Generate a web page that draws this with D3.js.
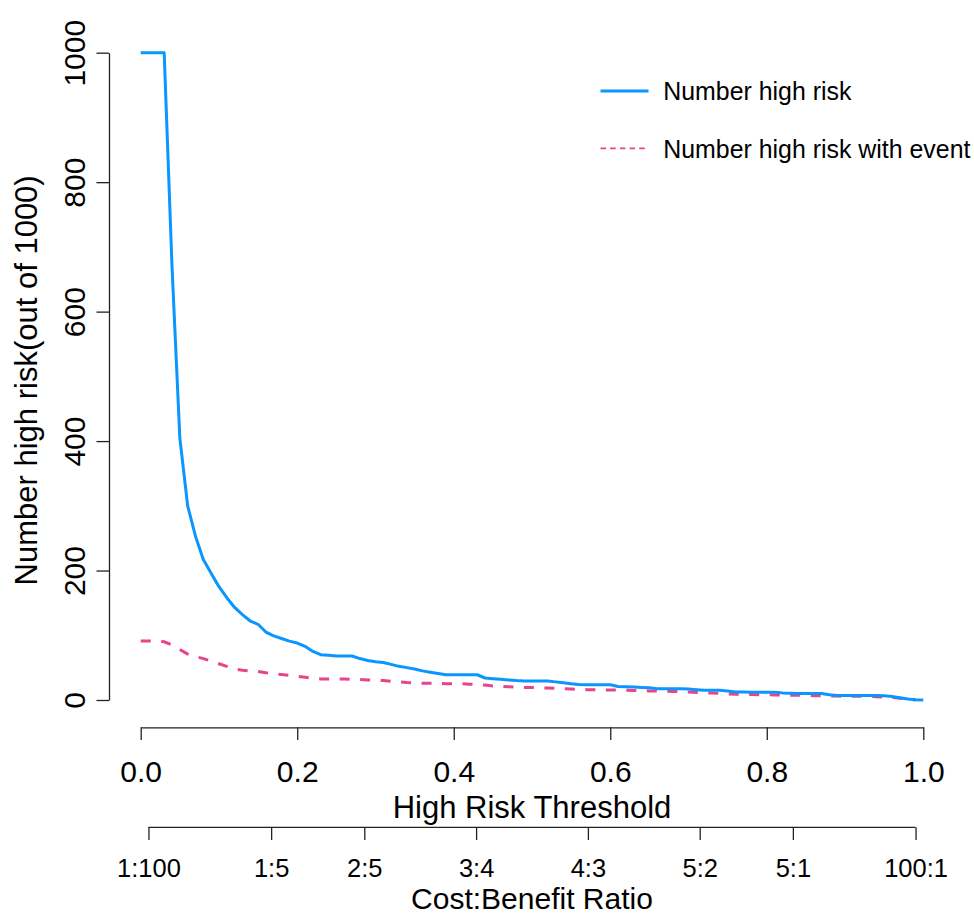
<!DOCTYPE html>
<html>
<head>
<meta charset="utf-8">
<script src="https://cdn.jsdelivr.net/npm/d3@7"></script>
<style>
  html, body { margin: 0; padding: 0; background: #fff; }
  svg { display: block; font-family: "Liberation Sans", Arial, Helvetica, sans-serif; }
</style>
</head>
<body>
<svg id="chart" width="974" height="915"></svg>
<script>
// ---------------- data ----------------
const thresholds = [
  0.00,0.01,0.02,0.03,0.04,0.05,0.06,0.07,0.08,0.09,
  0.10,0.11,0.12,0.13,0.14,0.15,0.16,0.17,0.18,0.19,
  0.20,0.21,0.22,0.23,0.24,0.25,0.26,0.27,0.28,0.29,
  0.30,0.31,0.32,0.33,0.34,0.35,0.36,0.37,0.38,0.39,
  0.40,0.41,0.42,0.43,0.44,0.45,0.46,0.47,0.48,0.49,
  0.50,0.51,0.52,0.53,0.54,0.55,0.56,0.57,0.58,0.59,
  0.60,0.61,0.62,0.63,0.64,0.65,0.66,0.67,0.68,0.69,
  0.70,0.71,0.72,0.73,0.74,0.75,0.76,0.77,0.78,0.79,
  0.80,0.81,0.82,0.83,0.84,0.85,0.86,0.87,0.88,0.89,
  0.90,0.91,0.92,0.93,0.94,0.95,0.96,0.97,0.98,0.99,
  1.00
];
const numberHighRisk = [
  1000,1000,1000,1000,670,405,300,253,217,196,
  175,158,143,132,122,117,105,99,95,91,
  88,83,75,70,69,68,68,68,64,61,
  59,58,55,52,50,48,45,43,41,39,
  39,39,39,39,34,33,32,31,30,29.5,
  29.5,29.5,29.5,28,26.5,25,24,23.7,23.7,23.7,
  23.5,21,20.5,20,19.5,19,17.5,17.5,17.5,17.5,
  17,16,15,15,15,14,12.5,12.2,12,12,
  12,12,11,10.5,10,10,10,10,8,7,
  7,7,7,7,7,6.5,5.5,3.5,1.5,0.5,
  0
];
const numberHighRiskEvent = [
  91,91,91,90,85,78,71,67,64,60,
  56,52,48,46,45,44,42,40.5,39.5,38,
  36.5,35,33.5,32.5,32.5,32.5,32.5,32,31.5,31,
  30.5,30,29,28,27,26.5,26,26,25.5,25.2,
  25,25,24.5,24.2,23,21.5,21,20.5,20,19.5,
  19.5,19,18.5,18,17.5,17,16.2,16,15.8,15.6,
  15.5,15.3,15,14.7,14.3,14,13.7,13.5,13.3,13,
  12.5,11.5,11,10.8,10.5,9.5,8.8,8.8,8.5,8.2,
  8,7.8,7.5,7.2,7.2,7,6.7,6.5,6.2,6,
  5.7,5.7,5.7,5.5,5,4.6,4,2.5,1.2,0,
  null
];
const xTicks = [0.0, 0.2, 0.4, 0.6, 0.8, 1.0];
const yTicks = [0, 200, 400, 600, 800, 1000];
const ratioLabels = ["1:100", "1:5", "2:5", "3:4", "4:3", "5:2", "5:1", "100:1"];
const seriesNames = ["Number high risk", "Number high risk with event"];
const seriesColors = ["#0A96FF", "#E8438C"];

// ---------------- layout ----------------
const svg = d3.select("#chart");
const x = d3.scaleLinear().domain([0, 1]).range([140.7, 923.3]);
const y = d3.scaleLinear().domain([0, 1000]).range([700, 52.7]);
const yAxisX = 109;
const xAxisY = 727.3;
const rAxisY = 827.3;
const axisColor = "#222";

// Y axis
const gy = svg.append("g").attr("transform", `translate(${yAxisX},0)`)
  .call(d3.axisLeft(y).tickValues(yTicks).tickSize(12.5).tickSizeOuter(0).tickFormat(d3.format("d")));
gy.selectAll("path.domain, line").attr("stroke", axisColor).attr("stroke-width", 1.3);
gy.selectAll("text")
  .attr("transform", "rotate(-90)")
  .attr("x", 0).attr("y", -24).attr("dy", 0)
  .attr("text-anchor", "middle")
  .attr("fill", "#000")
  .style("font-size", "30px").style("font-family", "inherit");

// X axis
const gx = svg.append("g").attr("transform", `translate(0,${xAxisY})`)
  .call(d3.axisBottom(x).tickValues(xTicks).tickSize(12.7).tickSizeOuter(0).tickFormat(d3.format(".1f")));
gx.selectAll("path.domain, line").attr("stroke", axisColor).attr("stroke-width", 1.3);
gx.selectAll("text")
  .attr("y", 54.4).attr("dy", 0)
  .attr("fill", "#000")
  .style("font-size", "30px").style("font-family", "inherit");

// Cost:Benefit ratio axis (same threshold scale; threshold = a/(a+b))
const ratioPos = ratioLabels.map(s => { const [a, b] = s.split(":").map(Number); return a / (a + b); });
const gr = svg.append("g").attr("transform", `translate(0,${rAxisY})`)
  .call(d3.axisBottom(x).tickValues(ratioPos).tickSize(12.7).tickSizeOuter(0)
    .tickFormat((d, i) => ratioLabels[i]));
gr.select("path.domain").remove();
gr.append("line")
  .attr("x1", x(ratioPos[0])).attr("x2", x(ratioPos[ratioPos.length - 1]))
  .attr("y1", 0).attr("y2", 0);
gr.selectAll("line").attr("stroke", axisColor).attr("stroke-width", 1.3);
gr.selectAll("text")
  .attr("y", 49.4).attr("dy", 0)
  .attr("fill", "#000")
  .style("font-size", "25.5px").style("font-family", "inherit");

// Axis titles
svg.append("text")
  .attr("x", (x.range()[0] + x.range()[1]) / 2).attr("y", 818.3)
  .attr("text-anchor", "middle").style("font-size", "31px")
  .text("High Risk Threshold");
svg.append("text")
  .attr("x", (x.range()[0] + x.range()[1]) / 2).attr("y", 908.5)
  .attr("text-anchor", "middle").style("font-size", "30px")
  .text("Cost:Benefit Ratio");
svg.append("text")
  .attr("transform", `translate(37,${(y.range()[0] + y.range()[1]) / 2 + 4}) rotate(-90)`)
  .attr("text-anchor", "middle").style("font-size", "31px")
  .text("Number high risk(out of 1000)");

// Lines
const line1 = d3.line().x((d, i) => x(thresholds[i])).y(d => y(d));
const line2 = d3.line().defined(d => d !== null).x((d, i) => x(thresholds[i])).y(d => y(d));
svg.append("path").datum(numberHighRiskEvent)
  .attr("d", line2).attr("fill", "none")
  .attr("stroke", seriesColors[1]).attr("stroke-width", 3)
  .attr("stroke-dasharray", "10,10.5");
svg.append("path").datum(numberHighRisk)
  .attr("d", line1).attr("fill", "none")
  .attr("stroke", seriesColors[0]).attr("stroke-width", 3)
  .attr("stroke-linejoin", "round");

// Legend
const legend = svg.append("g");
const legendRows = [91, 148.3];
seriesNames.forEach((name, i) => {
  legend.append("line")
    .attr("x1", 600.5).attr("x2", 648.5)
    .attr("y1", legendRows[i]).attr("y2", legendRows[i])
    .attr("stroke", seriesColors[i])
    .attr("stroke-width", i === 0 ? 2.8 : 1.8)
    .attr("stroke-dasharray", i === 0 ? null : "5.5,4.2");
  legend.append("text")
    .attr("x", 663.3).attr("y", legendRows[i] + 9.3)
    .style("font-size", "24.9px")
    .text(name);
});
</script>
</body>
</html>
